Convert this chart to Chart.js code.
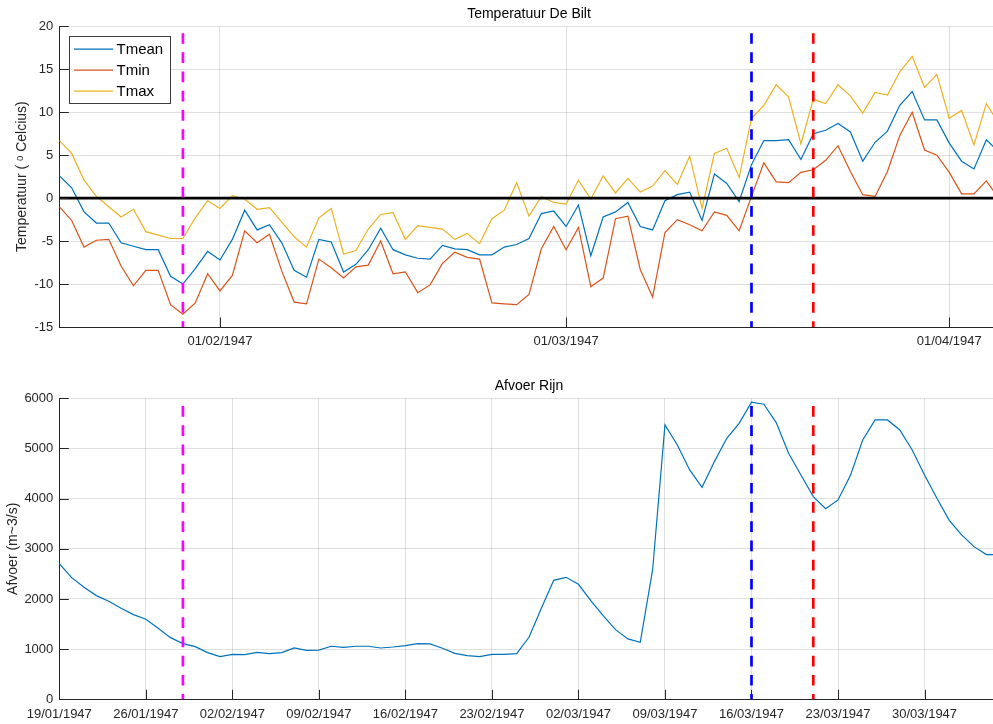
<!DOCTYPE html>
<html>
<head>
<meta charset="utf-8">
<title>Temperatuur De Bilt en Afvoer Rijn, 1947</title>
<script src="https://cdn.jsdelivr.net/npm/chart.js@4/dist/chart.umd.min.js"></script>
<style>
  html, body { margin: 0; padding: 0; background: #fff; width: 993px; height: 724px; overflow: hidden; }
  .panel { position: absolute; left: 0; }
  #tempPanel { top: 0; }
  #flowPanel { top: 370px; }
</style>
</head>
<body>
<div class="panel" id="tempPanel"><canvas id="tempChart" width="1000" height="355"></canvas></div>
<div class="panel" id="flowPanel"><canvas id="flowChart" width="1000" height="354"></canvas></div>
<script>
// Daily values, day 0 = 19/01/1947, last day = 05/04/1947
const tmean = [2.6, 1.2, -1.6, -2.9, -2.9, -5.2, -5.6, -6.0, -6.0, -9.1,
  -10.0, -8.2, -6.2, -7.2, -4.8, -1.4, -3.7, -3.1, -5.2, -8.4,
  -9.2, -4.8, -5.1, -8.6, -7.7, -6.0, -3.5, -6.0, -6.6, -7.0,
  -7.1, -5.5, -5.9, -6.0, -6.6, -6.6, -5.7, -5.4, -4.7, -1.8,
  -1.5, -3.3, -0.8, -6.7, -2.2, -1.6, -0.5, -3.3, -3.7, -0.3,
  0.4, 0.7, -2.6, 2.8, 1.7, -0.4, 3.9, 6.7, 6.7, 6.8,
  4.5, 7.5, 7.9, 8.7, 7.7, 4.3, 6.5, 7.8, 10.8, 12.4,
  9.1, 9.1, 6.4, 4.3, 3.4, 6.8, 5.4];
const tmin = [-1.0, -2.6, -5.7, -4.9, -4.8, -7.9, -10.2, -8.4, -8.4, -12.4,
  -13.5, -12.2, -8.8, -10.8, -9.0, -3.8, -5.2, -4.2, -8.5, -12.1,
  -12.3, -7.1, -8.1, -9.3, -8.0, -7.8, -5.0, -8.8, -8.6, -11.0,
  -10.1, -7.6, -6.3, -6.9, -7.1, -12.2, -12.3, -12.4, -11.2, -5.9,
  -3.3, -6.0, -3.4, -10.3, -9.3, -2.4, -2.1, -8.3, -11.5, -4.0,
  -2.5, -3.1, -3.8, -1.6, -2.0, -3.8, 0.2, 4.1, 1.9, 1.8,
  3.0, 3.3, 4.4, 6.1, 3.1, 0.4, 0.2, 3.1, 7.3, 10.0,
  5.6, 5.0, 3.0, 0.5, 0.5, 2.0, 0.0];
const tmax = [6.7, 5.2, 2.1, 0.2, -1.0, -2.2, -1.3, -3.9, -4.3, -4.7,
  -4.7, -2.3, -0.3, -1.2, 0.3, -0.1, -1.3, -1.1, -2.8, -4.5,
  -5.7, -2.3, -1.2, -6.5, -6.1, -3.6, -1.9, -1.7, -4.8, -3.2,
  -3.4, -3.6, -4.8, -4.1, -5.3, -2.4, -1.4, 1.8, -2.1, 0.2,
  -0.5, -0.7, 2.1, -0.1, 2.6, 0.6, 2.3, 0.7, 1.4, 3.2,
  1.6, 4.9, -1.2, 5.2, 5.8, 2.4, 9.3, 10.8, 13.2, 11.8,
  6.3, 11.5, 11.0, 13.2, 11.9, 9.9, 12.3, 12.0, 14.7, 16.5,
  12.9, 14.4, 9.3, 10.2, 6.2, 11.0, 8.7];
const afvoer = [2705, 2425, 2233, 2067, 1954, 1814, 1688, 1595, 1415, 1229,
  1110, 1050, 930, 851, 897, 890, 937, 910, 930, 1023,
  977, 980, 1057, 1037, 1057, 1057, 1023, 1043, 1070, 1110,
  1103, 1017, 917, 870, 851, 897, 897, 910, 1236, 1814,
  2372, 2432, 2293, 1967, 1668, 1389, 1203, 1136, 2578, 5469,
  5070, 4572, 4226, 4738, 5203, 5502, 5921, 5881, 5515, 4904,
  4472, 4040, 3801, 3974, 4459, 5170, 5569, 5569, 5369, 4970,
  4472, 4007, 3568, 3276, 3043, 2884, 2884];

const seriesNames = ['Tmean', 'Tmin', 'Tmax'];
const seriesColors = ['#0072BD', '#D95319', '#EDB120'];

// Axis ticks (day offsets from 19/01/1947) and their labels
const tempTickDays = [13, 41, 72];
const tempTickLabels = ['01/02/1947', '01/03/1947', '01/04/1947'];
const flowTickDays = [0, 7, 14, 21, 28, 35, 42, 49, 56, 63, 70];
const flowTickLabels = ['19/01/1947', '26/01/1947', '02/02/1947', '09/02/1947', '16/02/1947',
  '23/02/1947', '02/03/1947', '09/03/1947', '16/03/1947', '23/03/1947', '30/03/1947'];
const lastDay = 76;

// Marked dates: 29/01, 16/03 and 21/03
const eventDays = [10, 56, 61];
const eventColors = ['#FF00FF', '#0000FF', '#FF0000'];

const FONT = "'Liberation Sans', Arial, Helvetica, sans-serif";
const INK = '#262626';
const GRID = 'rgba(38,38,38,0.15)';
Chart.defaults.font.family = FONT;
Chart.defaults.color = INK;

const toPoints = arr => arr.map((v, i) => ({ x: i, y: v }));

// Inward tick marks on the left and bottom axes
const innerTicks = {
  id: 'innerTicks',
  afterDraw(chart) {
    const { ctx, chartArea: a, scales: { x, y } } = chart;
    ctx.save();
    ctx.strokeStyle = INK;
    ctx.lineWidth = 1;
    ctx.beginPath();
    y.ticks.forEach(t => {
      const py = Math.round(y.getPixelForValue(t.value)) + 0.5;
      ctx.moveTo(a.left, py); ctx.lineTo(a.left + 9.5, py);
    });
    x.ticks.forEach(t => {
      const px = Math.round(x.getPixelForValue(t.value)) + 0.5;
      ctx.moveTo(px, a.bottom); ctx.lineTo(px, a.bottom - 9.5);
    });
    ctx.stroke();
    ctx.restore();
  }
};

// Boxed legend in the upper-left corner of the plot area
const boxLegend = {
  id: 'boxLegend',
  afterDraw(chart) {
    const { ctx, chartArea: a } = chart;
    const items = chart.data.datasets.filter(d => seriesNames.includes(d.label))
      .sort((p, q) => seriesNames.indexOf(p.label) - seriesNames.indexOf(q.label));
    const bx = Math.round(a.left + 10) + 0.5, by = Math.round(a.top + 10) + 0.5;
    const bw = 101, bh = 67;
    ctx.save();
    ctx.fillStyle = '#fff';
    ctx.fillRect(bx, by, bw, bh);
    ctx.strokeStyle = '#3c3c3c';
    ctx.lineWidth = 1;
    ctx.strokeRect(bx, by, bw, bh);
    ctx.font = '15px ' + FONT;
    ctx.textBaseline = 'middle';
    ctx.textAlign = 'left';
    items.forEach((d, i) => {
      const ry = by + 12.6 + i * 21;
      ctx.strokeStyle = d.borderColor;
      ctx.lineWidth = 1.3;
      ctx.beginPath();
      ctx.moveTo(bx + 4.5, ry); ctx.lineTo(bx + 43.5, ry);
      ctx.stroke();
      ctx.fillStyle = '#000';
      ctx.fillText(d.label, bx + 47, ry + 0.5);
    });
    ctx.restore();
  }
};

function eventLines(top) {
  return eventDays.map((d, i) => ({
    label: 'event' + i,
    data: [{ x: d, y: top.from }, { x: d, y: top.to }],
    borderColor: eventColors[i],
    borderWidth: 2.7,
    borderDash: [10.7, 8.5],
    pointRadius: 0,
    order: 0
  }));
}

function xScale(tickDays, tickLabels, axisHeight, labelPad) {
  return {
    type: 'linear',
    min: 0,
    max: lastDay,
    afterBuildTicks: s => { s.ticks = tickDays.map(v => ({ value: v })); },
    afterFit: s => { s.height = axisHeight; },
    ticks: {
      autoSkip: false, maxRotation: 0, padding: labelPad,
      font: { size: 13 }, color: INK,
      callback: v => tickLabels[tickDays.indexOf(v)]
    },
    grid: { color: GRID, lineWidth: 1, drawTicks: false },
    border: { display: true, color: INK, width: 1 }
  };
}

function yScale(min, max, step, titleText, titlePad) {
  return {
    type: 'linear',
    min: min, max: max,
    afterFit: s => { s.width = 59.3; },
    ticks: { stepSize: step, padding: 6, font: { size: 13 }, color: INK, callback: v => String(v) },
    grid: { color: GRID, lineWidth: 1, drawTicks: false },
    border: { display: true, color: INK, width: 1 },
    title: { display: true, text: titleText, font: { size: 14 }, color: INK, padding: { top: titlePad, bottom: 0 } }
  };
}

function plotTitle(text, padTop) {
  return {
    display: true, text: text, fullSize: false, color: '#000',
    font: { size: 14, weight: 'normal' },
    padding: { top: padTop, bottom: 3.5 }
  };
}

// Temperature panel
new Chart(document.getElementById('tempChart'), {
  type: 'line',
  data: {
    datasets: [
      ...eventLines({ from: 19.2, to: -15 }),
      { label: 'nul', data: [{ x: 0, y: 0 }, { x: lastDay, y: 0 }], borderColor: '#000', borderWidth: 2.6, pointRadius: 0, order: 1 },
      { label: 'Tmax', data: toPoints(tmax), borderColor: seriesColors[2], borderWidth: 1.2, pointRadius: 0, order: 2 },
      { label: 'Tmin', data: toPoints(tmin), borderColor: seriesColors[1], borderWidth: 1.2, pointRadius: 0, order: 3 },
      { label: 'Tmean', data: toPoints(tmean), borderColor: seriesColors[0], borderWidth: 1.2, pointRadius: 0, order: 4 }
    ]
  },
  options: {
    responsive: false,
    animation: false,
    devicePixelRatio: 1,
    parsing: false,
    elements: { line: { tension: 0 } },
    layout: { padding: { left: 0, right: 1.3, top: 0, bottom: 0 } },
    scales: {
      x: xScale(tempTickDays, tempTickLabels, 28, 7),
      y: yScale(-15, 20, 5, 'Temperatuur ( ᵒ Celcius)', 14)
    },
    plugins: {
      legend: { display: false },
      tooltip: { enabled: false },
      title: plotTitle('Temperatuur De Bilt', 6)
    }
  },
  plugins: [innerTicks, boxLegend]
});

// River discharge panel
new Chart(document.getElementById('flowChart'), {
  type: 'line',
  data: {
    datasets: [
      ...eventLines({ from: 5845, to: 0 }),
      { label: 'Afvoer', data: toPoints(afvoer), borderColor: '#0072BD', borderWidth: 1.2, pointRadius: 0, order: 2 }
    ]
  },
  options: {
    responsive: false,
    animation: false,
    devicePixelRatio: 1,
    parsing: false,
    elements: { line: { tension: 0 } },
    layout: { padding: { left: 0, right: 1.3, top: 0, bottom: 0 } },
    scales: {
      x: xScale(flowTickDays, flowTickLabels, 24.7, 7),
      y: yScale(0, 6000, 1000, 'Afvoer (m~3/s)', 4.4)
    },
    plugins: {
      legend: { display: false },
      tooltip: { enabled: false },
      title: plotTitle('Afvoer Rijn', 8)
    }
  },
  plugins: [innerTicks]
});
</script>
</body>
</html>
